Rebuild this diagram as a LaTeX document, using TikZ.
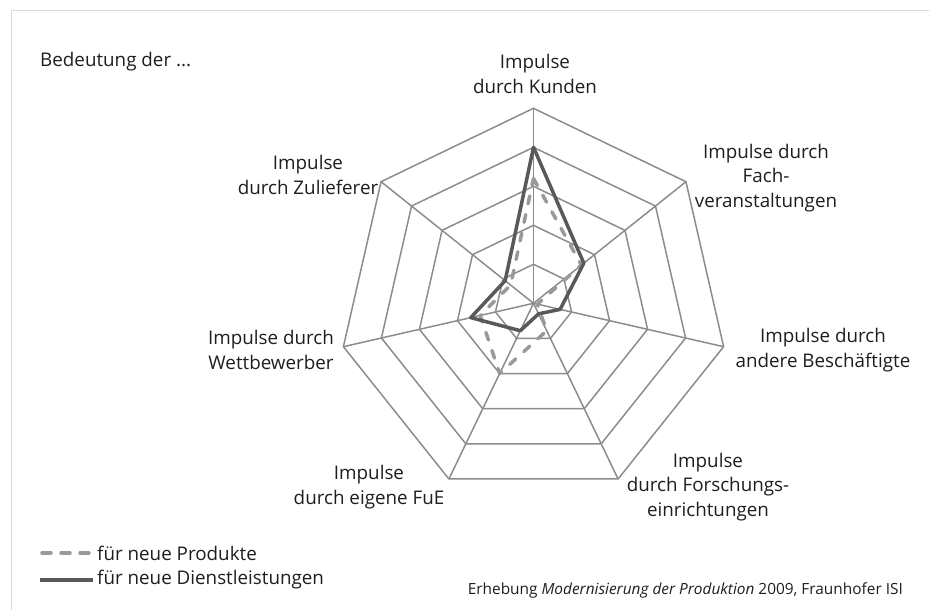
\documentclass[tikz,border=0pt]{standalone}
\usepackage{fontspec}
\setmainfont{Open Sans}
\usetikzlibrary{calc}
\definecolor{gridgray}{HTML}{8C8C8C}
\definecolor{solidgray}{HTML}{595959}
\definecolor{dashgray}{HTML}{999999}
\definecolor{framegray}{HTML}{D9D9D9}
\definecolor{txt}{HTML}{1E1E1E}
\begin{document}
\begin{tikzpicture}[x=1pt,y=-1pt,
  grid/.style={draw=gridgray,line width=1.5pt,line join=miter},
  lbl/.style={align=center,font=\fontsize{18.8}{24.5}\selectfont,inner sep=0pt,text=txt},
  dienst/.style={draw=solidgray,line width=3.5pt,line join=round},
  produkt/.style={draw=dashgray,line width=3.5pt,line cap=round,line join=round,dash pattern=on 8pt off 11pt},
]
\useasboundingbox (0,0) rectangle (929,610);
\draw[framegray,line width=1pt] (11,610) -- (11,11) -- (929,11);

\coordinate (c) at (533.5,303.3);
% rings
\foreach \k in {1,...,5} {
  \draw[grid] ($(c)+(90:\k*39pt)$)
    -- ($(c)+(90-1*360/7:\k*39pt)$)
    -- ($(c)+(90-2*360/7:\k*39pt)$)
    -- ($(c)+(90-3*360/7:\k*39pt)$)
    -- ($(c)+(90-4*360/7:\k*39pt)$)
    -- ($(c)+(90-5*360/7:\k*39pt)$)
    -- ($(c)+(90-6*360/7:\k*39pt)$) -- cycle;
}
% spokes
\foreach \i in {0,...,6} {
  \coordinate (v\i) at ($(c)+(90-\i*360/7:195pt)$);
  \draw[grid] (c) -- (v\i);
}
% data
\foreach \v [count=\i from 0] in {3.2,1.57,0.1,0.78,2.0,1.4,0.75}
  \coordinate (d\i) at ($(c)+(90-\i*360/7:\v*39pt)$);
\foreach \v [count=\i from 0] in {4.0,1.65,0.7,0.3,0.78,1.65,0.93}
  \coordinate (s\i) at ($(c)+(90-\i*360/7:\v*39pt)$);
\draw[produkt] (d0) -- (d1) -- (d2) -- (d3) -- (d4) -- (d5) -- (d6) -- cycle;
\draw[dienst] (s0) -- (s1) -- (s2) -- (s3) -- (s4) -- (s5) -- (s6) -- cycle;

% labels
\node[lbl,anchor=west] (title) at (40,62) {Bedeutung der ...};
\node[lbl] (l0) at (535,74) {Impulse\\durch Kunden};
\node[lbl] (l1) at (766,178) {Impulse durch\\Fach-\\veranstaltungen};
\node[lbl] (l2) at (823,350) {Impulse durch\\andere Beschäftigte};
\node[lbl] (l3) at (708,487) {Impulse\\durch Forschungs-\\einrichtungen};
\node[lbl] (l4) at (369,487) {Impulse\\durch eigene FuE};
\node[lbl] (l5) at (271,350) {Impulse durch\\Wettbewerber};
\node[lbl] (l6) at (308,175) {Impulse\\durch Zulieferer};

% legend
\coordinate (la) at (42,553);
\coordinate (lb) at (93,553);
\coordinate (lc) at (40,580);
\coordinate (ld) at (93,580);
\draw[produkt,dash pattern=on 9pt off 10pt] (la) -- (lb);
\draw[dienst,line width=4pt] (lc) -- (ld);
\node[lbl,anchor=west] (tp) at (97,553) {für neue Produkte};
\node[lbl,anchor=west] (td) at (97,580) {für neue Dienstleistungen};

\node[lbl,font=\fontsize{15.4}{18}\selectfont,anchor=east] (src) at (903,590)
  {Erhebung \textit{Modernisierung der Produktion} 2009, Fraunhofer ISI};
\end{tikzpicture}
\end{document}
